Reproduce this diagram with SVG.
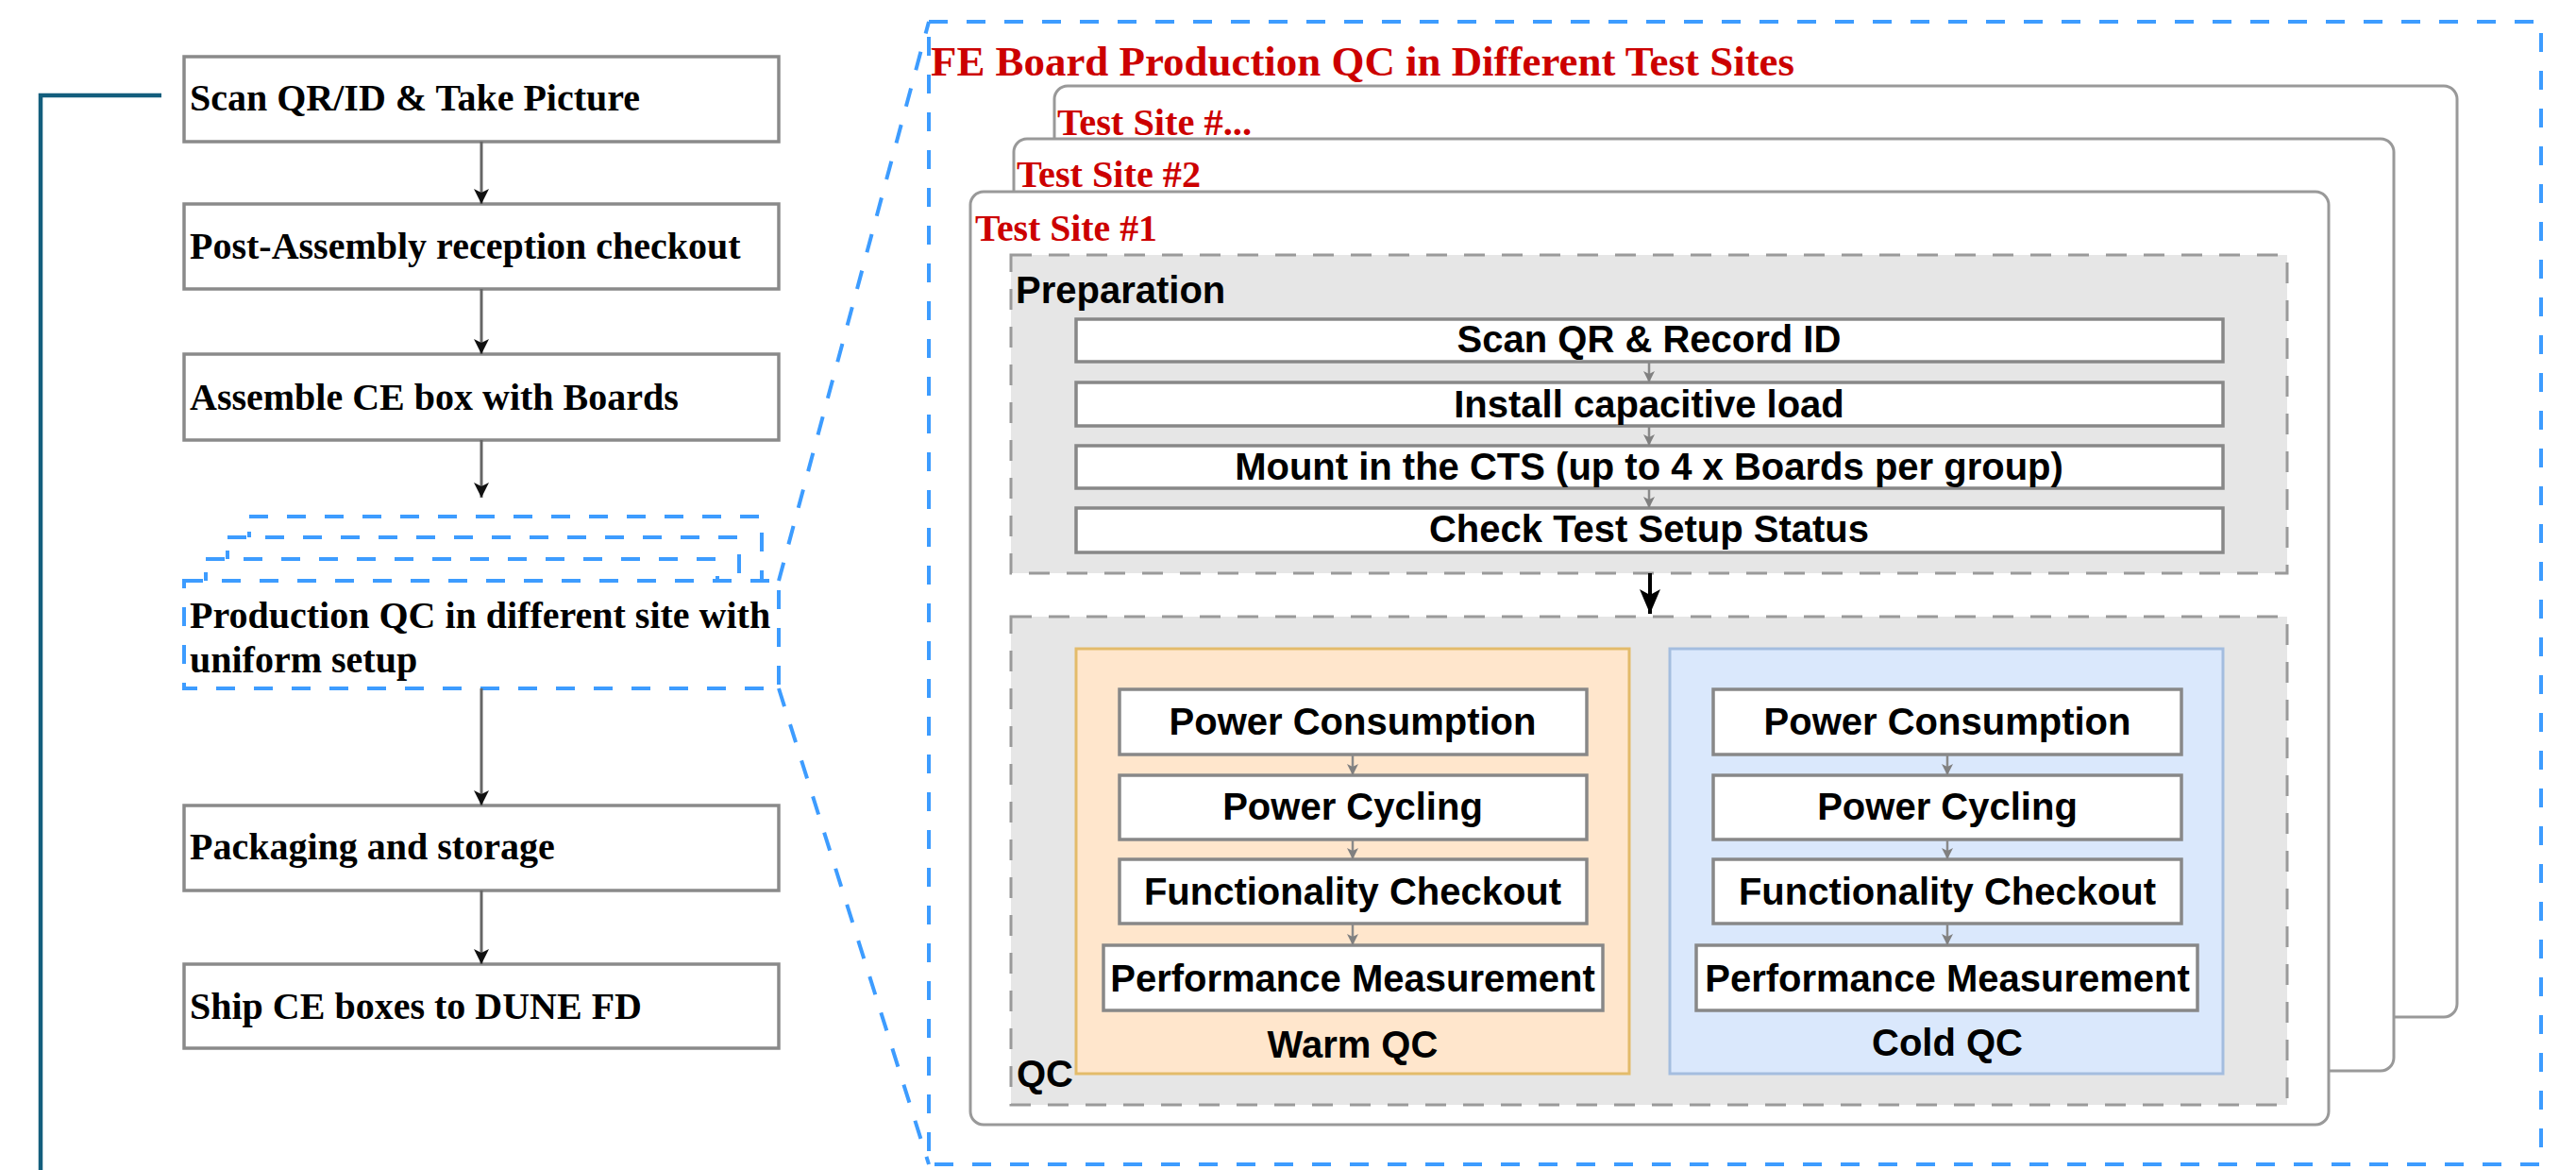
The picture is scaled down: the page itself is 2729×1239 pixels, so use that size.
<svg xmlns="http://www.w3.org/2000/svg" width="2729" height="1239" viewBox="0 0 2729 1239">
<defs>
<style>
.lbox{fill:#fff;stroke:#8a8a8a;stroke-width:3.5}
.ltxt{font-family:"Liberation Serif","Times New Roman",serif;font-weight:bold;font-size:40px;fill:#000}
.red{font-family:"Liberation Serif","Times New Roman",serif;font-weight:bold;fill:#cc0000}
.site{fill:#fff;stroke:#999;stroke-width:3}
.grp{fill:#e6e6e6;stroke:#9a9a9a;stroke-width:3;stroke-dasharray:22 18}
.ibox{fill:#fff;stroke:#888;stroke-width:3.5}
.stxt{font-family:"Liberation Sans",Arial,sans-serif;font-weight:bold;font-size:40px;fill:#000}
.mid{text-anchor:middle}
.blue{fill:none;stroke:#3d9cff;stroke-width:4;stroke-dasharray:20 20}
.bluef{fill:#fff;stroke:#3d9cff;stroke-width:4;stroke-dasharray:20 20}
.conL{stroke:#666;stroke-width:3;fill:none}
.conS{stroke:#8a8a8a;stroke-width:2.5;fill:none}
.conB{stroke:#000;stroke-width:4;fill:none}
</style>
<marker id="ahL" markerUnits="userSpaceOnUse" markerWidth="16" markerHeight="16" refX="16" refY="8" orient="auto" viewBox="0 0 16 16"><path d="M0,0 L16,8 L0,16 L4,8 Z" fill="#111"/></marker>
<marker id="ahS" markerUnits="userSpaceOnUse" markerWidth="12" markerHeight="12" refX="12" refY="6" orient="auto" viewBox="0 0 12 12"><path d="M0,0 L12,6 L0,12 L3,6 Z" fill="#808080"/></marker>
<marker id="ahB" markerUnits="userSpaceOnUse" markerWidth="26" markerHeight="22" refX="26" refY="11" orient="auto" viewBox="0 0 26 22"><path d="M0,0 L26,11 L0,22 L6,11 Z" fill="#000"/></marker>
</defs>

<!-- side line -->
<path d="M171,101 H43 V1245" fill="none" stroke="#135e7d" stroke-width="4.5"/>

<!-- left column -->
<g id="n-scan">
<rect class="lbox" x="195" y="60" width="630" height="90"/>
<text class="ltxt" x="201" y="117">Scan QR/ID &amp; Take Picture</text>
</g>
<g id="n-post">
<rect class="lbox" x="195" y="216" width="630" height="90"/>
<text class="ltxt" x="201" y="274">Post-Assembly reception checkout</text>
</g>
<g id="n-assemble">
<rect class="lbox" x="195" y="375" width="630" height="91"/>
<text class="ltxt" x="201" y="434">Assemble CE box with Boards</text>
</g>
<g id="n-prodqc">
<rect class="bluef" x="264" y="547" width="543" height="115"/>
<rect class="bluef" x="241" y="569" width="542" height="115"/>
<rect class="bluef" x="218" y="592" width="542" height="115"/>
<rect class="bluef" x="195" y="615" width="630" height="114"/>
<text class="ltxt" x="201" y="665">Production QC in different site with</text>
<text class="ltxt" x="201" y="712">uniform setup</text>
</g>
<g id="n-pack">
<rect class="lbox" x="195" y="853" width="630" height="90"/>
<text class="ltxt" x="201" y="910">Packaging and storage</text>
</g>
<g id="n-ship">
<rect class="lbox" x="195" y="1021" width="630" height="89"/>
<text class="ltxt" x="201" y="1079">Ship CE boxes to DUNE FD</text>
</g>

<!-- big zoom box -->
<g id="n-fe">
<rect class="blue" x="984" y="23" width="1708" height="1210"/>
<text class="red" x="986" y="80" font-size="44.5" textLength="915" lengthAdjust="spacingAndGlyphs">FE Board Production QC in Different Test Sites</text>
</g>

<g id="n-site3">
<rect class="site" x="1117" y="91" width="1486" height="986" rx="14"/>
<text class="red" x="1120" y="143" font-size="40" textLength="206" lengthAdjust="spacingAndGlyphs">Test Site #...</text>
</g>
<g id="n-site2">
<rect class="site" x="1074" y="147" width="1462" height="987" rx="14"/>
<text class="red" x="1077" y="198" font-size="40" textLength="195" lengthAdjust="spacingAndGlyphs">Test Site #2</text>
</g>
<g id="n-site1">
<rect class="site" x="1028" y="203" width="1439" height="988" rx="14"/>
<text class="red" x="1033" y="255" font-size="40" textLength="193" lengthAdjust="spacingAndGlyphs">Test Site #1</text>
</g>

<g id="n-prep">
<rect class="grp" x="1071" y="270" width="1352" height="337"/>
<text class="stxt" x="1076" y="321">Preparation</text>
</g>
<g id="n-p1">
<rect class="ibox" x="1140" y="338" width="1215" height="45"/>
<text class="stxt mid" x="1747" y="373">Scan QR &amp; Record ID</text>
</g>
<g id="n-p2">
<rect class="ibox" x="1140" y="405" width="1215" height="46"/>
<text class="stxt mid" x="1747" y="442">Install capacitive load</text>
</g>
<g id="n-p3">
<rect class="ibox" x="1140" y="472" width="1215" height="45"/>
<text class="stxt mid" x="1747" y="508">Mount in the CTS (up to 4 x Boards per group)</text>
</g>
<g id="n-p4">
<rect class="ibox" x="1140" y="538" width="1215" height="47"/>
<text class="stxt mid" x="1747" y="574">Check Test Setup Status</text>
</g>

<g id="n-qc">
<rect class="grp" x="1071" y="653" width="1352" height="517"/>
<text class="stxt" x="1077" y="1151">QC</text>
</g>
<g id="n-warm">
<rect x="1140" y="687" width="586" height="450" fill="#ffe6cc" stroke="#e3bb6a" stroke-width="3"/>
<text class="stxt mid" x="1433" y="1120">Warm QC</text>
</g>
<g id="n-cold">
<rect x="1769" y="687" width="586" height="450" fill="#dae8fc" stroke="#a4bddf" stroke-width="3"/>
<text class="stxt mid" x="2063" y="1118">Cold QC</text>
</g>
<g id="n-w1"><rect class="ibox" x="1186" y="730" width="495" height="69"/><text class="stxt mid" x="1433" y="778">Power Consumption</text></g>
<g id="n-w2"><rect class="ibox" x="1186" y="821" width="495" height="68"/><text class="stxt mid" x="1433" y="868">Power Cycling</text></g>
<g id="n-w3"><rect class="ibox" x="1186" y="910" width="495" height="68"/><text class="stxt mid" x="1433" y="958">Functionality Checkout</text></g>
<g id="n-w4"><rect class="ibox" x="1169" y="1001" width="529" height="69"/><text class="stxt mid" x="1433" y="1050">Performance Measurement</text></g>
<g id="n-c1"><rect class="ibox" x="1815" y="730" width="496" height="69"/><text class="stxt mid" x="2063" y="778">Power Consumption</text></g>
<g id="n-c2"><rect class="ibox" x="1815" y="821" width="496" height="68"/><text class="stxt mid" x="2063" y="868">Power Cycling</text></g>
<g id="n-c3"><rect class="ibox" x="1815" y="910" width="496" height="68"/><text class="stxt mid" x="2063" y="958">Functionality Checkout</text></g>
<g id="n-c4"><rect class="ibox" x="1797" y="1001" width="531" height="69"/><text class="stxt mid" x="2063" y="1050">Performance Measurement</text></g>

<!-- connectors -->
<g id="connectors">
<line class="conL" x1="510" y1="150" x2="510" y2="216" marker-end="url(#ahL)"/>
<line class="conL" x1="510" y1="306" x2="510" y2="375" marker-end="url(#ahL)"/>
<line class="conL" x1="510" y1="466" x2="510" y2="527" marker-end="url(#ahL)"/>
<line class="conL" x1="510" y1="729" x2="510" y2="853" marker-end="url(#ahL)"/>
<line class="conL" x1="510" y1="943" x2="510" y2="1021" marker-end="url(#ahL)"/>
<line class="blue" x1="825" y1="615" x2="984" y2="23"/>
<line class="blue" x1="825" y1="729" x2="984" y2="1233"/>
<line class="conS" x1="1747" y1="383" x2="1747" y2="405" marker-end="url(#ahS)"/>
<line class="conS" x1="1747" y1="451" x2="1747" y2="472" marker-end="url(#ahS)"/>
<line class="conS" x1="1747" y1="517" x2="1747" y2="538" marker-end="url(#ahS)"/>
<line class="conB" x1="1748" y1="607" x2="1748" y2="650" marker-end="url(#ahB)"/>
<line class="conS" x1="1433" y1="799" x2="1433" y2="821" marker-end="url(#ahS)"/>
<line class="conS" x1="1433" y1="889" x2="1433" y2="910" marker-end="url(#ahS)"/>
<line class="conS" x1="1433" y1="978" x2="1433" y2="1001" marker-end="url(#ahS)"/>
<line class="conS" x1="2063" y1="799" x2="2063" y2="821" marker-end="url(#ahS)"/>
<line class="conS" x1="2063" y1="889" x2="2063" y2="910" marker-end="url(#ahS)"/>
<line class="conS" x1="2063" y1="978" x2="2063" y2="1001" marker-end="url(#ahS)"/>
</g>
</svg>
